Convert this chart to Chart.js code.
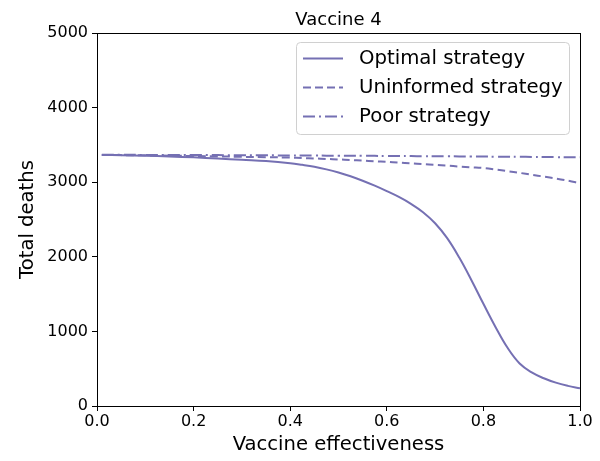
<!DOCTYPE html>
<html>
<head>
<meta charset="utf-8">
<script src="https://cdn.jsdelivr.net/npm/chart.js@4.4.1/dist/chart.umd.min.js"></script>
<style>
  body { margin: 0; background: #fff; }
</style>
</head>
<body>
<canvas id="chartCanvas" width="600" height="461"></canvas>
<script>
// values
const effectiveness = [0.01, 0.05, 0.1, 0.15, 0.2, 0.25, 0.3, 0.35, 0.4, 0.425, 0.45, 0.475, 0.5, 0.525, 0.55, 0.575, 0.6, 0.625, 0.65, 0.675, 0.7, 0.725, 0.75, 0.775, 0.8, 0.825, 0.85, 0.875, 0.9, 0.925, 0.95, 0.975, 1.0];
const optimalDeaths = [3365, 3362, 3355, 3345, 3333, 3318, 3300, 3283, 3255, 3233, 3207, 3172, 3130, 3080, 3020, 2953, 2880, 2802, 2710, 2598, 2450, 2250, 1990, 1690, 1370, 1060, 780, 570, 450, 372, 313, 270, 237];
const uninformedDeaths = [3365, 3363, 3360, 3356, 3351, 3346, 3340, 3336, 3330, 3324, 3318, 3312, 3305, 3298, 3290, 3281, 3272, 3262, 3253, 3243, 3232, 3222, 3210, 3200, 3190, 3170, 3148, 3125, 3100, 3075, 3050, 3020, 2985];
const poorDeaths = [3368, 3367, 3366, 3365, 3364, 3363, 3362, 3360, 3359, 3358, 3357, 3356, 3356, 3355, 3354, 3353, 3352, 3351, 3350, 3349, 3348, 3347, 3346, 3345, 3344, 3342, 3341, 3340, 3339, 3337, 3336, 3334, 3333];
const xTicks = [0, 0.2, 0.4, 0.6, 0.8, 1.0];
const yTicks = [0, 1000, 2000, 3000, 4000, 5000];

const purple = '#7570b3';
const fontFamily = '"DejaVu Sans", sans-serif';

function toPoints(values){
    return values.map((v, i) => ({x: effectiveness[i], y: v}));
}

const frame = {
    id: 'frame',
    afterDatasetsDraw(chart){
        const a = chart.chartArea;
        const ctx = chart.ctx;
        ctx.save();
        ctx.strokeStyle = '#000';
        ctx.lineWidth = 1;
        ctx.strokeRect(a.left + 0.5, a.top + 0.5, a.right - a.left, a.bottom - a.top);
        ctx.restore();
    }
};

const titleText = {
    id: 'titleText',
    afterDraw(chart){
        const a = chart.chartArea;
        const ctx = chart.ctx;
        ctx.save();
        ctx.fillStyle = '#000';
        ctx.font = '18px ' + fontFamily;
        ctx.textAlign = 'center';
        ctx.textBaseline = 'alphabetic';
        ctx.fillText('Vaccine 4', (a.left + a.right) / 2, 25);
        ctx.restore();
    }
};

const boxLegend = {
    id: 'boxLegend',
    afterDraw(chart){
        const ctx = chart.ctx;
        const x = 296.5, y = 42.5, w = 273, h = 92;
        ctx.save();
        ctx.fillStyle = 'rgba(255,255,255,0.8)';
        ctx.strokeStyle = '#d0d0d0';
        ctx.lineWidth = 1;
        ctx.beginPath();
        ctx.roundRect(x, y, w, h, 4);
        ctx.fill();
        ctx.stroke();
        ctx.font = '19.7px ' + fontFamily;
        ctx.textBaseline = 'middle';
        ctx.fillStyle = '#000';
        chart.data.datasets.forEach((ds, i) => {
            const rowY = 58.5 + i * 29;
            ctx.strokeStyle = ds.borderColor;
            ctx.lineWidth = ds.borderWidth;
            ctx.setLineDash(ds.borderDash || []);
            ctx.beginPath();
            ctx.moveTo(303, rowY);
            ctx.lineTo(343, rowY);
            ctx.stroke();
            ctx.setLineDash([]);
            ctx.fillText(ds.label, 359, rowY);
        });
        ctx.restore();
    }
};

let ctx = document.getElementById('chartCanvas').getContext('2d');
let chart = new Chart(ctx, {
    type: 'line',
    data: {
        datasets: [
            { label: 'Optimal strategy', data: toPoints(optimalDeaths), borderColor: purple, borderWidth: 2, borderDash: [] },
            { label: 'Uninformed strategy', data: toPoints(uninformedDeaths), borderColor: purple, borderWidth: 2, borderDash: [8, 4] },
            { label: 'Poor strategy', data: toPoints(poorDeaths), borderColor: purple, borderWidth: 2, borderDash: [12, 4, 2, 4] }
        ]
    },
    options: {
        responsive: false,
        animation: false,
        layout: { padding: { left: 0, right: 20, top: 33, bottom: 0 } },
        elements: {
            point: { radius: 0 },
            line: { tension: 0.4, fill: false }
        },
        plugins: { legend: { display: false }, tooltip: { enabled: false }, title: { display: false } },
        scales: {
            x: {
                type: 'linear',
                min: 0, max: 1,
                afterBuildTicks: s => { s.ticks = xTicks.map(v => ({value: v})); },
                afterFit: s => { s.height = 55; },
                grid: { drawOnChartArea: false, drawTicks: true, tickLength: 5, color: '#000' },
                border: { display: true, color: '#000', width: 1 },
                ticks: { color: '#000', padding: 1, maxRotation: 0, font: { family: fontFamily, size: 16 }, callback: v => v.toFixed(1) },
                title: { display: true, text: 'Vaccine effectiveness', color: '#000', font: { family: fontFamily, size: 19.6 }, padding: { top: 0, bottom: 4 } }
            },
            y: {
                type: 'linear',
                min: 0, max: 5000,
                afterBuildTicks: s => { s.ticks = yTicks.map(v => ({value: v})); },
                afterFit: s => { s.width = 97; },
                grid: { drawOnChartArea: false, drawTicks: true, tickLength: 5, color: '#000' },
                border: { display: true, color: '#000', width: 1 },
                ticks: { color: '#000', padding: 4, font: { family: fontFamily, size: 16 }, callback: v => String(v) },
                title: { display: true, text: 'Total deaths', color: '#000', font: { family: fontFamily, size: 19.6 }, padding: { top: 16, bottom: 0 } }
            }
        }
    },
    plugins: [frame, titleText, boxLegend]
});
</script>
</body>
</html>
